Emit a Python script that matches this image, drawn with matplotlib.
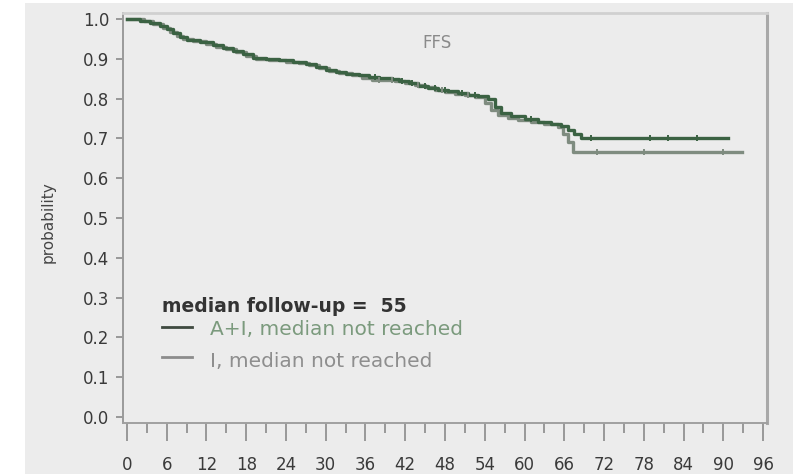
import numpy as np
import matplotlib
matplotlib.use("Agg")
import matplotlib.pyplot as plt
from matplotlib.patches import Rectangle
from matplotlib.ticker import MultipleLocator

# Kaplan-Meier estimates (months, survival probability)
ai_times = [0, 2, 3.5, 5, 6, 7, 8, 9, 11, 13, 14.5, 16, 17.5, 19, 21, 23, 25, 27,
            28.5, 30, 31.5, 33, 35, 36.5, 38, 40, 41, 42.5, 44, 45.5, 47, 48.5, 50,
            51.5, 53, 54.5, 55.5, 56.5, 58, 60, 62, 64, 65.5, 66.5, 67.5, 68.5, 90.7]
ai_surv = [1.0, 0.995, 0.99, 0.982, 0.975, 0.965, 0.955, 0.948, 0.942, 0.935, 0.928,
           0.92, 0.912, 0.903, 0.9, 0.896, 0.892, 0.887, 0.88, 0.872, 0.866, 0.862,
           0.858, 0.855, 0.852, 0.848, 0.845, 0.838, 0.832, 0.827, 0.822, 0.818, 0.815,
           0.81, 0.806, 0.8, 0.78, 0.765, 0.756, 0.748, 0.742, 0.737, 0.73, 0.72, 0.71,
           0.701, 0.701]
ai_censor = [37.5, 41.5, 43, 45, 46.5, 48, 50.5, 52.5, 61, 70, 79, 81.7, 86]

i_times = [0, 2.5, 4, 5.5, 6.5, 7.5, 8.5, 10, 12, 13.5, 15, 16.5, 18, 19.5, 21.5, 24,
           26, 27.5, 29, 30.5, 32, 34, 35.5, 37, 39, 40.5, 42, 43.5, 45, 46.5, 48,
           49.5, 51, 52.5, 54, 55, 56, 57.5, 59, 61, 63, 65, 65.8, 66.5, 67.3, 92.8]
i_surv = [1.0, 0.994, 0.988, 0.978, 0.968, 0.958, 0.95, 0.944, 0.938, 0.93, 0.924,
          0.916, 0.907, 0.9, 0.896, 0.893, 0.889, 0.884, 0.876, 0.869, 0.864, 0.86,
          0.852, 0.847, 0.846, 0.843, 0.84, 0.834, 0.828, 0.822, 0.817, 0.812, 0.808,
          0.804, 0.79, 0.772, 0.76, 0.752, 0.745, 0.74, 0.735, 0.728, 0.71, 0.69,
          0.666, 0.666]
i_censor = [38, 40, 44, 47.5, 51.5, 71, 78, 90]

x_ticks = list(range(0, 97, 6))
y_ticks = [round(0.1 * k, 1) for k in range(11)]

title = "FFS"
followup_text = "median follow-up =  55"
ai_label = "A+I, median not reached"
i_label = "I, median not reached"

BG = "#ececec"
AI_COLOR = "#3b6243"
I_COLOR = "#7f8c80"

plt.rcParams["font.family"] = ["DejaVu Sans"]

fig = plt.figure(figsize=(8.0, 4.74), dpi=100, facecolor="white")
fig.patches.append(Rectangle((25 / 800, 0), (793 - 25) / 800, 1 - 3 / 474,
                             transform=fig.transFigure, facecolor=BG,
                             edgecolor="none", zorder=-10))

ax = fig.add_axes([123 / 800, 1 - 423 / 474, (767 - 123) / 800, (423 - 13) / 474])
ax.set_facecolor(BG)


def step_at(times, surv, t):
    idx = np.searchsorted(times, t, side="right") - 1
    return np.asarray(surv)[idx]


for times, surv, cens, color in [(i_times, i_surv, i_censor, I_COLOR),
                                 (ai_times, ai_surv, ai_censor, AI_COLOR)]:
    ax.step(times, surv, where="post", color=color, lw=2.4, zorder=3,
            solid_joinstyle="round")
    ax.plot(cens, step_at(times, surv, cens), ls="none", marker="|",
            ms=5, mew=1.4, color=color, zorder=4)

ax.set_xlim(-0.6, 96.6)
ax.set_ylim(-0.015, 1.015)

ax.set_xticks(x_ticks)
ax.xaxis.set_minor_locator(MultipleLocator(3))
ax.set_yticks(y_ticks)
ax.set_yticklabels([f"{v:.1f}" for v in y_ticks])

ax.tick_params(axis="x", which="major", length=13, width=1.2, color="#8a8a8a",
               pad=11, labelsize=12, labelcolor="#3a3a3a")
ax.tick_params(axis="x", which="minor", length=7, width=1.2, color="#8a8a8a")
ax.tick_params(axis="y", which="major", length=5, width=1.2, color="#8a8a8a",
               pad=5, labelsize=12, labelcolor="#3a3a3a")

for side, col, lw in [("left", "#9a9a9a", 1.4), ("bottom", "#a0a0a0", 1.4),
                      ("top", "#d0d0d0", 2.0), ("right", "#a8a8a8", 2.2)]:
    ax.spines[side].set_color(col)
    ax.spines[side].set_linewidth(lw)

ax.set_ylabel("probability", fontsize=11, color="#444444")
ax.yaxis.set_label_coords(-0.105, 0.49)

ax.text(0.487, 0.928, title, transform=ax.transAxes, ha="center", va="center",
        fontsize=12, color="#8a8a8a")

# annotation block
ax.text(0.06, 0.285, followup_text, transform=ax.transAxes, ha="left",
        va="center", fontsize=13.5, fontweight="bold", color="#333333")
ax.plot([0.06, 0.107], [0.233, 0.233], transform=ax.transAxes, color="#3f4a40",
        lw=2.0)
ax.text(0.135, 0.227, ai_label, transform=ax.transAxes, ha="left", va="center",
        fontsize=14.5, color="#7b9a7d")
ax.plot([0.06, 0.107], [0.16, 0.16], transform=ax.transAxes, color="#8c8c8c",
        lw=2.0)
ax.text(0.135, 0.15, i_label, transform=ax.transAxes, ha="left", va="center",
        fontsize=14.5, color="#8e8e8e")

fig.savefig("out.png", dpi=100, facecolor=fig.get_facecolor())
